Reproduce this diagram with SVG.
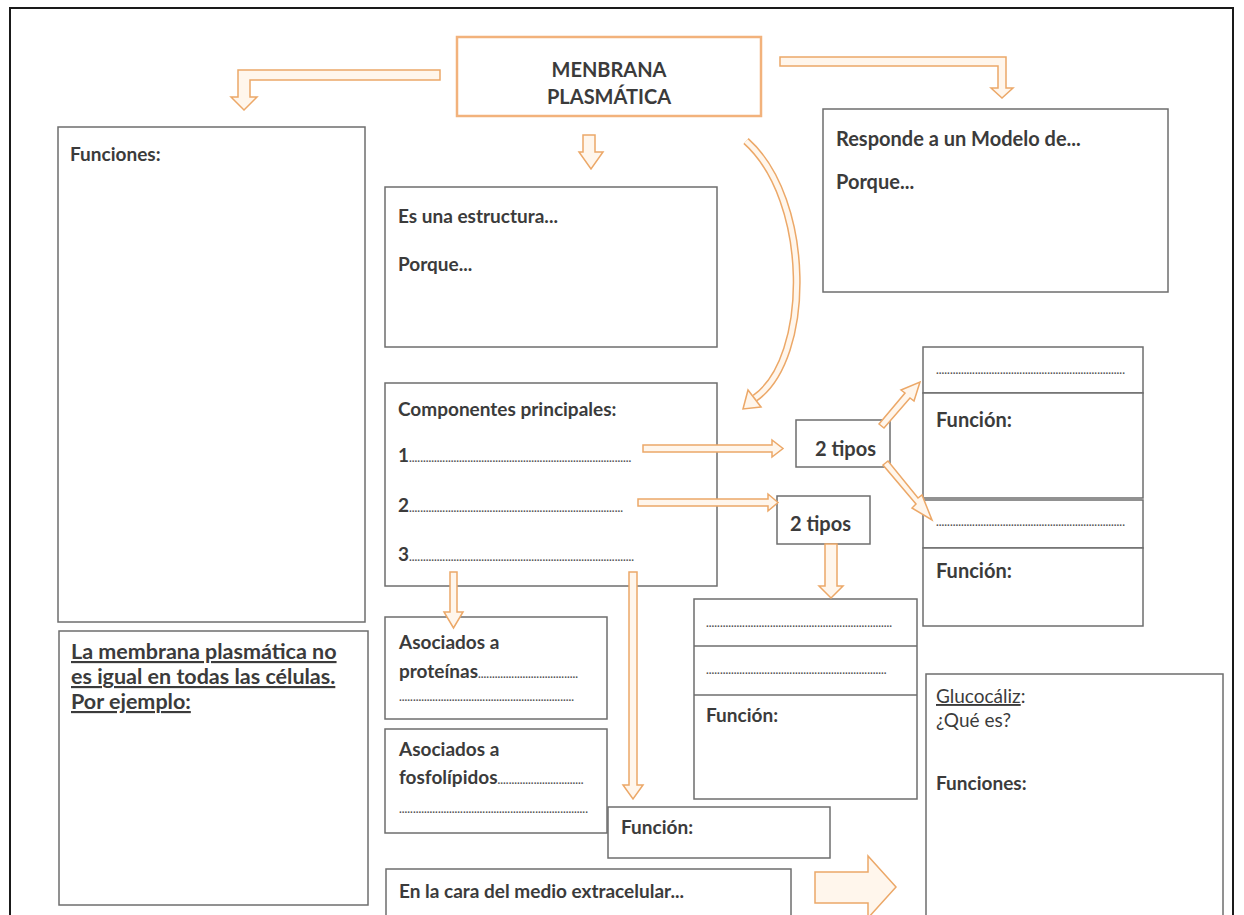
<svg xmlns="http://www.w3.org/2000/svg" width="1244" height="915" viewBox="0 0 1244 915">
<style>
.bx{fill:#fff;stroke:#6e6e6e;stroke-width:1.5}
.ln{stroke:#6e6e6e;stroke-width:1.5}
.ob{fill:#fff;stroke:#f2b27c;stroke-width:2.5}
.ar{fill:#fff6ec;stroke:#eca868;stroke-width:1.5;stroke-linejoin:miter}
.t{font-family:Lato,"Liberation Sans",sans-serif;font-weight:bold;font-size:19px;fill:#3b3b3b}
.tn{font-weight:normal}
.u{text-decoration:underline}
.big{font-size:21.5px}
.md{font-size:20px}
.dt{font-family:"Liberation Sans",sans-serif;font-weight:bold;font-size:10px;fill:#555}
.ti{font-family:Lato,"Liberation Sans",sans-serif;font-weight:bold;font-size:20px;fill:#3b3b3b}
</style>
<rect width="1244" height="915" fill="#fff"/>
<path d="M10 915 V8 H1233 V915" fill="none" stroke="#1a1a1a" stroke-width="2"/>

<g id="membrana">
<rect class="ob" x="457" y="37" width="304" height="79"/>
<text class="ti" x="609" y="77" text-anchor="middle">MENBRANA</text>
<text class="ti" x="609" y="104" text-anchor="middle">PLASMÁTICA</text>
</g>

<g id="funciones">
<rect class="bx" x="58" y="127" width="307" height="495"/>
<text class="t" x="70" y="161">Funciones:</text>
</g>

<g id="no-igual">
<rect class="bx" x="59" y="631" width="309" height="274"/>
<text class="t u big" x="71" y="659">La membrana plasmática no</text>
<text class="t u big" x="71" y="684">es igual en todas las células.</text>
<text class="t u big" x="71" y="709">Por ejemplo:</text>
</g>

<g id="estructura">
<rect class="bx" x="385" y="187" width="332" height="160"/>
<text class="t" x="398" y="223">Es una estructura...</text>
<text class="t" x="398" y="271">Porque...</text>
</g>

<g id="modelo">
<rect class="bx" x="823" y="109" width="345" height="183"/>
<text class="t md" x="836" y="146">Responde a un Modelo de...</text>
<text class="t md" x="836" y="189">Porque...</text>
</g>

<g id="componentes">
<rect class="bx" x="385" y="383" width="332" height="203"/>
<text class="t" x="398" y="416">Componentes principales:</text>
<text class="t" x="398" y="462">1<tspan class="dt">................................................................................</tspan></text>
<text class="t" x="398" y="512">2<tspan class="dt">.............................................................................</tspan></text>
<text class="t" x="398" y="561">3<tspan class="dt">.................................................................................</tspan></text>
</g>

<g id="tipos1">
<rect class="bx" x="796" y="420" width="94" height="47"/>
<text class="t md" x="815" y="456">2 tipos</text>
</g>

<g id="tipos2">
<rect class="bx" x="777" y="496" width="93" height="48"/>
<text class="t md" x="790" y="531">2 tipos</text>
</g>

<g id="tipo-a">
<rect class="bx" x="923" y="347" width="220" height="46"/>
<text class="dt" x="936" y="374">....................................................................</text>
<rect class="bx" x="923" y="393" width="220" height="105"/>
<text class="t md" x="936" y="427">Función:</text>
</g>

<g id="tipo-b">
<rect class="bx" x="923" y="500" width="220" height="48"/>
<text class="dt" x="936" y="526">....................................................................</text>
<rect class="bx" x="923" y="548" width="220" height="78"/>
<text class="t md" x="936" y="578">Función:</text>
</g>

<g id="proteinas">
<rect class="bx" x="385" y="617" width="222" height="102"/>
<text class="t" x="399" y="649">Asociados a</text>
<text class="t" x="399" y="678">proteínas<tspan class="dt">....................................</tspan></text>
<text class="dt" x="399" y="701">...............................................................</text>
</g>

<g id="fosfolipidos">
<rect class="bx" x="385" y="729" width="222" height="104"/>
<text class="t" x="399" y="756">Asociados a</text>
<text class="t" x="399" y="784">fosfolípidos<tspan class="dt">...............................</tspan></text>
<text class="dt" x="399" y="813">....................................................................</text>
</g>

<g id="funcion-3">
<rect class="bx" x="608" y="807" width="222" height="51"/>
<text class="t" x="621" y="834">Función:</text>
</g>

<g id="extracelular">
<rect class="bx" x="386" y="869" width="405" height="60"/>
<text class="t" x="399" y="898">En la cara del medio extracelular...</text>
</g>

<g id="tipos2-detalle">
<rect class="bx" x="694" y="599" width="223" height="200"/>
<line class="ln" x1="694" y1="646" x2="917" y2="646"/>
<line class="ln" x1="694" y1="695" x2="917" y2="695"/>
<text class="dt" x="706" y="627">...................................................................</text>
<text class="dt" x="706" y="674">.................................................................</text>
<text class="t" x="706" y="722">Función:</text>
</g>

<g id="glucocaliz">
<rect class="bx" x="926" y="674" width="297" height="260"/>
<text class="t tn" x="936" y="703"><tspan class="u">Glucocáliz</tspan>:</text>
<text class="t tn" x="936" y="727">¿Qué es?</text>
<text class="t" x="936" y="790">Funciones:</text>
</g>

<g id="connectors">
<polygon class="ar" points="440,70 238,70 238,97 231,97 244,110 257,97 250,97 250,80 440,80"/>
<polygon class="ar" points="780,57 1006,57 1006,88 1013,88 1002,98 991,88 998,88 998,66 780,66"/>
<polygon class="ar" points="583,135 595,135 595,152 603,152 591,169 579,152 583,152"/>
<path d="M746 141 C812 200 812 358 755 398" fill="none" stroke="#eca868" stroke-width="8"/>
<path d="M746 141 C812 200 812 358 755 398" fill="none" stroke="#fff6ec" stroke-width="5"/>
<polygon class="ar" points="761,407 743,409 748,390"/>
<polygon class="ar" points="643,445 772,445 772,440 783,448.5 772,457 772,452 643,452"/>
<polygon class="ar" points="638,499 768,499 768,494 778,502.5 768,511 768,506 638,506"/>
<polygon class="ar" points="879,424 905,393 901,390 920,382 914,401 910,398 884,428"/>
<polygon class="ar" points="883,465 888,461 918,498 922,495 932,520 912,508 916,504"/>
<polygon class="ar" points="825,544 837,544 837,586 843,586 831,598 819,586 825,586"/>
<polygon class="ar" points="450,572 457,572 457,612 463,612 453.5,628 444,612 450,612"/>
<polygon class="ar" points="629,572 637,572 637,785 643,785 633,799 623,785 629,785"/>
<polygon class="ar" points="815,872 868,872 868,856 896,887 868,918 868,903 815,903"/>
</g>
</svg>
